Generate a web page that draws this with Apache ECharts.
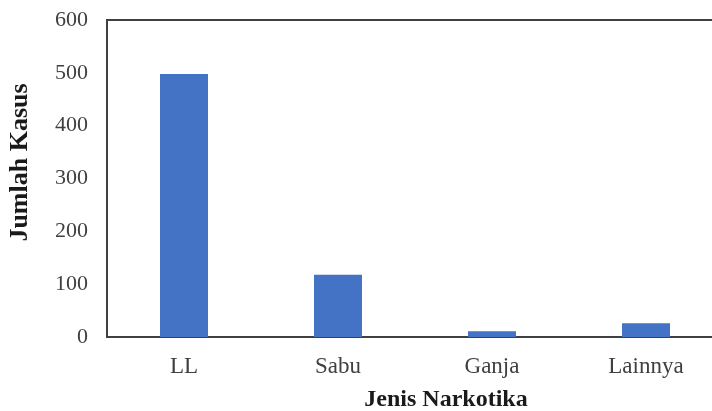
<!DOCTYPE html>
<html>
<head>
<meta charset="utf-8">
<script src="https://cdn.jsdelivr.net/npm/echarts@6/dist/echarts.min.js"></script>
<style>
  html, body { margin: 0; padding: 0; background: #fff; }
  #chart { width: 712px; height: 411px; }
</style>
</head>
<body>
<div id="chart"></div>
<script>
var categories = ['LL', 'Sabu', 'Ganja', 'Lainnya'];
var kasus = [498, 118, 11, 26];
var yTicks = [0, 100, 200, 300, 400, 500, 600];

var chart = echarts.init(document.getElementById('chart'));
chart.setOption({
  animation: false,
  grid: {
    left: 107,
    top: 20,
    right: -11,
    height: 317,
    outerBoundsMode: 'none',
    containLabel: false,
    show: true,
    borderColor: '#404040',
    borderWidth: 2
  },
  xAxis: {
    type: 'category',
    data: categories,
    name: 'Jenis Narkotika',
    nameLocation: 'middle',
    nameGap: 51,
    nameTextStyle: {
      fontFamily: 'Liberation Serif',
      fontWeight: 'bold',
      fontSize: 24,
      color: '#1a1a1a',
      padding: [0, 0, 0, 62]
    },
    axisLine: { lineStyle: { color: '#404040', width: 2 } },
    axisTick: { show: false },
    axisLabel: {
      fontFamily: 'Liberation Serif',
      fontSize: 23,
      color: '#404040',
      margin: 18
    }
  },
  yAxis: {
    type: 'value',
    min: yTicks[0],
    max: yTicks[yTicks.length - 1],
    interval: 100,
    name: 'Jumlah Kasus',
    nameLocation: 'middle',
    nameGap: 74,
    nameTextStyle: {
      fontFamily: 'Liberation Serif',
      fontWeight: 'bold',
      fontSize: 26,
      color: '#1a1a1a',
      padding: [0, 0, 0, 32]
    },
    axisLine: { show: true, lineStyle: { color: '#404040', width: 2 } },
    axisTick: { show: false },
    splitLine: { show: false },
    axisLabel: {
      fontFamily: 'Liberation Serif',
      fontSize: 22,
      color: '#404040',
      margin: 19
    }
  },
  series: [{
    type: 'bar',
    data: kasus,
    barWidth: 48,
    itemStyle: { color: '#4472C4' }
  }]
});
</script>
</body>
</html>
